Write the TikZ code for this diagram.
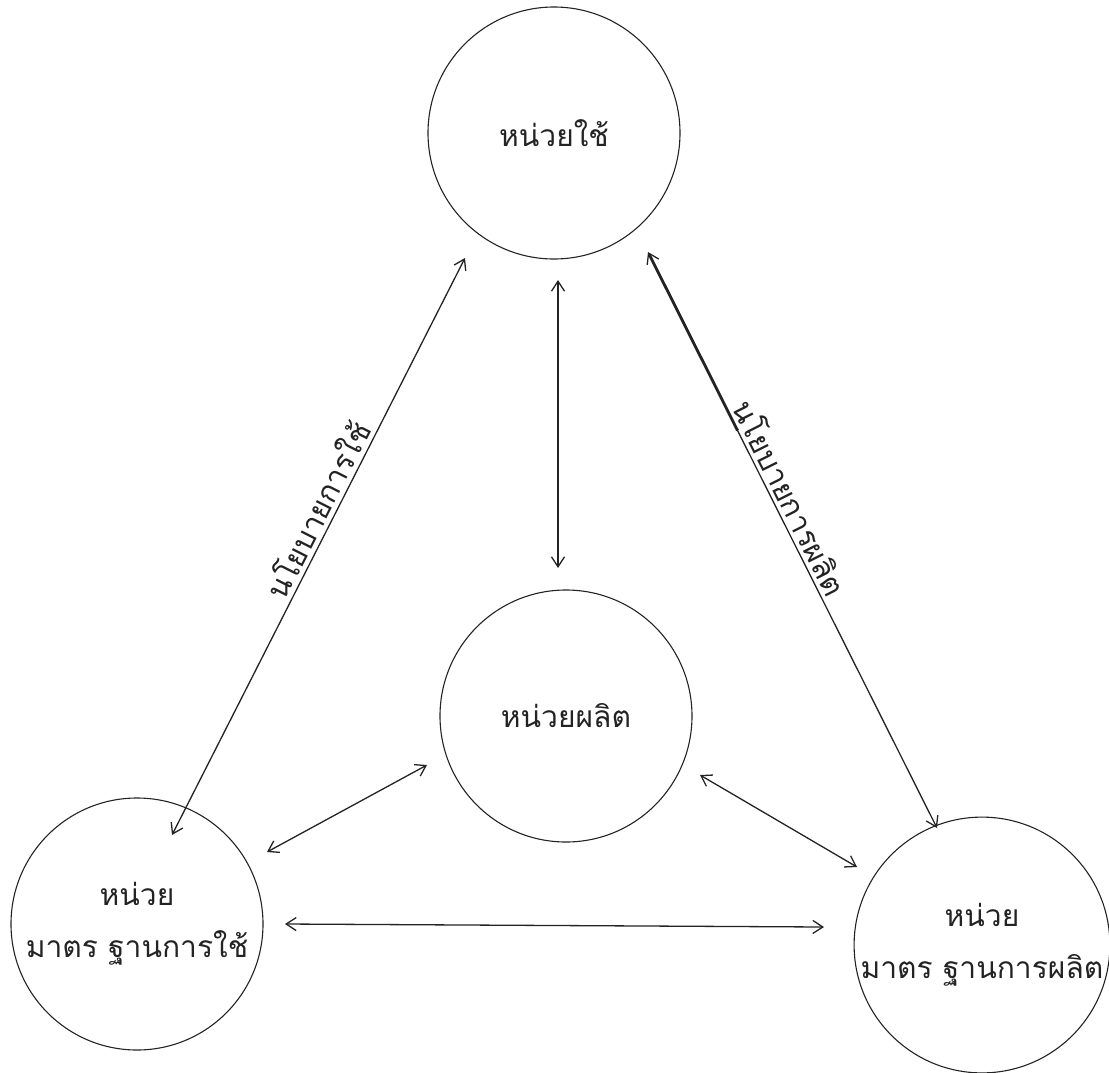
\documentclass[tikz,border=0pt]{standalone}
\usepackage{fontspec}
\newfontfamily\thaifont[Script=Thai]{Loma}
\usetikzlibrary{arrows.meta,calc}
\definecolor{ink}{RGB}{35,35,35}
\begin{document}
\begin{tikzpicture}[x=1pt,y=-1pt,
  unit/.style={circle, draw=ink, line width=1.1pt, minimum size=252pt, inner sep=0pt,
    font=\thaifont\fontsize{30}{52}\selectfont, text=ink, align=center},
  link/.style={draw=ink, line width=1.3pt, {Straight Barb[length=10pt,width=13pt]}-{Straight Barb[length=10pt,width=13pt]}},
  rlbl/.style={font=\thaifont\fontsize{30}{36}\selectfont, text=ink, sloped, above, inner sep=4pt},
]
\useasboundingbox (0,0) rectangle (1109,1072);
% units
\node[unit] (use)  at (554,133) {หน่วยใช้};
\node[unit] (prod) at (566,716) {หน่วยผลิต};
\node[unit] (stdu) at (137,924) {หน่วย\\มาตร ฐานการใช้};
\node[unit] (stdp) at (982,945) {หน่วย\\มาตร ฐานการผลิต};
% connector ends
\coordinate (l1) at (172,835); \coordinate (l2) at (465,258);
\coordinate (v1) at (558,568); \coordinate (v2) at (558,280);
\coordinate (r1) at (648,252); \coordinate (r2) at (937,828);
\coordinate (a1) at (267,852); \coordinate (a2) at (427,765);
\coordinate (b1) at (700,775); \coordinate (b2) at (857,867);
\coordinate (h1) at (285,924); \coordinate (h2) at (824,927);
% connectors
\draw[link] (l1) -- node[rlbl, pos=0.55] {นโยบายการใช้} (l2);
\draw[link] (v1) -- (v2);
\draw[link] (r1) -- node[rlbl, pos=0.44] {นโยบายการผลิต} (r2);
\draw[draw=ink, line width=2.8pt, shorten <=3pt] (r1) -- ($(r1)!0.31!(r2)$);
\draw[link] (a1) -- (a2);
\draw[link] (b1) -- (b2);
\draw[link] (h1) -- (h2);
\end{tikzpicture}
\end{document}
